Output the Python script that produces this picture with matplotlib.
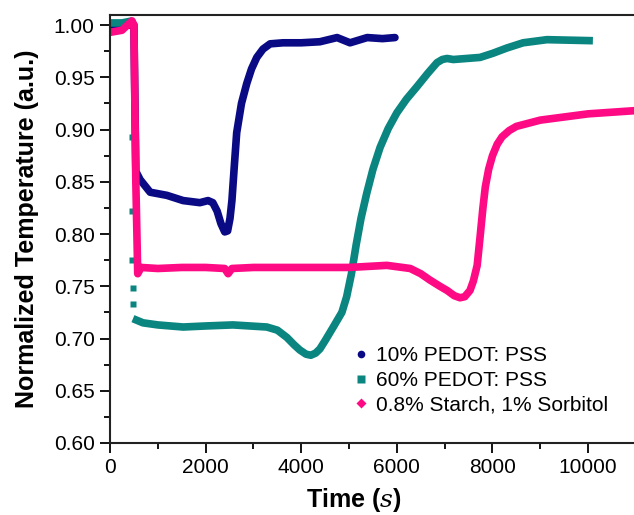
import numpy as np
import matplotlib
matplotlib.use('Agg')
import matplotlib.pyplot as plt
from matplotlib.lines import Line2D

plt.rcParams['font.family'] = ['Liberation Sans', 'DejaVu Sans']
plt.rcParams['mathtext.fontset'] = 'dejavuserif'

# 10% PEDOT: PSS
blue_t = [0, 500, 540, 630, 840, 1190, 1530, 1880, 2050, 2150, 2240, 2320, 2400, 2460, 2510,
          2550, 2600, 2650, 2750, 2860, 2960, 3070, 3200, 3350, 3620, 4000, 4390, 4750, 5020,
          5380, 5700, 5960]
blue_v = [1.000, 1.000, 0.860, 0.852, 0.840, 0.837, 0.832, 0.830, 0.832, 0.830, 0.822, 0.810,
          0.802, 0.803, 0.815, 0.832, 0.865, 0.897, 0.925, 0.944, 0.958, 0.969, 0.977, 0.982,
          0.983, 0.983, 0.984, 0.988, 0.983, 0.988, 0.987, 0.988]

# 60% PEDOT: PSS
teal_top_t = [0, 250, 470]
teal_top_v = [1.002, 1.002, 1.004]
teal_drop_t = [460, 460, 470, 480, 480]
teal_drop_v = [0.893, 0.822, 0.775, 0.748, 0.733]
teal_t = [480, 690, 1000, 1530, 2000, 2570, 3280, 3500, 3700, 3850, 3970, 4100, 4200, 4300,
          4390, 4500, 4670, 4850, 4950, 5050, 5150, 5250, 5370, 5500, 5650, 5820, 6000, 6200,
          6420, 6650, 6840, 6950, 7050, 7180, 7740, 8010, 8300, 8640, 9140, 10100]
teal_v = [0.719, 0.715, 0.713, 0.711, 0.712, 0.713, 0.711, 0.708, 0.701, 0.694, 0.689, 0.685,
          0.684, 0.686, 0.690, 0.698, 0.711, 0.725, 0.740, 0.762, 0.790, 0.815, 0.839, 0.862,
          0.883, 0.901, 0.916, 0.929, 0.941, 0.954, 0.964, 0.967, 0.968, 0.967, 0.969, 0.973,
          0.978, 0.983, 0.986, 0.985]

# 0.8% Starch, 1% Sorbitol
pink_t = [0, 250, 460, 500, 540, 580, 650, 1000, 1500, 2000, 2400, 2470, 2550, 3000, 4000,
          5000, 5790, 6280, 6500, 6690, 6900, 7050, 7200, 7320, 7420, 7530, 7600, 7680, 7740,
          7800, 7850, 7920, 8000, 8100, 8200, 8350, 8500, 9000, 10000, 10960]
pink_v = [0.993, 0.995, 1.004, 1.000, 0.850, 0.762, 0.768, 0.767, 0.768, 0.768, 0.767, 0.762,
          0.767, 0.768, 0.768, 0.768, 0.770, 0.767, 0.762, 0.756, 0.750, 0.746, 0.741, 0.739,
          0.740, 0.746, 0.755, 0.770, 0.797, 0.825, 0.845, 0.862, 0.875, 0.886, 0.893, 0.899,
          0.903, 0.909, 0.915, 0.918]

labels = ['10% PEDOT: PSS', '60% PEDOT: PSS', '0.8% Starch, 1% Sorbitol']
colors = ['#0a0a85', '#0a8580', '#ff0a85']

fig = plt.figure(figsize=(6.34, 5.15), dpi=100)
ax = fig.add_axes([110/634, 72/515, 524/634, 428/515])

lw = 5.5
ax.plot(blue_t, blue_v, color=colors[0], lw=lw, solid_capstyle='round', solid_joinstyle='round')
ax.plot(teal_top_t, teal_top_v, color=colors[1], lw=lw, solid_capstyle='butt')
ax.plot(teal_drop_t, teal_drop_v, 's', color=colors[1], ms=4.5, mec='none')
ax.plot(teal_t, teal_v, color=colors[1], lw=lw, solid_capstyle='butt', solid_joinstyle='round')
ax.plot(pink_t, pink_v, color=colors[2], lw=lw, solid_capstyle='round', solid_joinstyle='round')

ax.set_xlim(0, 10960)
ax.set_ylim(0.60, 1.0096)
ax.set_xticks(np.arange(0, 10001, 2000))
ax.set_xticks(np.arange(1000, 10001, 2000), minor=True)
ax.set_yticks(np.arange(0.60, 1.001, 0.05))
ax.set_yticks(np.arange(0.625, 1.0, 0.05), minor=True)
ax.set_yticklabels(['%.2f' % v for v in np.arange(0.60, 1.001, 0.05)])

ax.tick_params(which='major', direction='out', length=7, width=1.3, labelsize=15, pad=4)
ax.tick_params(which='minor', direction='out', length=4, width=1.3)
for s in ['left', 'bottom', 'top']:
    ax.spines[s].set_linewidth(1.5)
    ax.spines[s].set_color('#222222')
ax.spines['right'].set_visible(False)

ax.set_ylabel('Normalized Temperature (a.u.)', fontsize=18, fontweight='bold')
ax.yaxis.set_label_coords(-0.135, 0.5)
ax.set_xlabel('Time ($s$)', fontsize=18, fontweight='bold')
ax.xaxis.set_label_coords((354 - 110) / 524, -0.10)

markers = ['o', 's', 'D']
handles = [Line2D([], [], ls='none', marker=m, color=c, ms=5.5, mec='none')
           for m, c in zip(markers, colors)]
ax.legend(handles, labels, loc='upper left', bbox_to_anchor=(0.468, 0.226),
          frameon=False, fontsize=15, handlelength=0.6, handletextpad=0.4,
          labelspacing=0.27, borderpad=0, borderaxespad=0)

fig.savefig('out.png', dpi=100, facecolor='white')
